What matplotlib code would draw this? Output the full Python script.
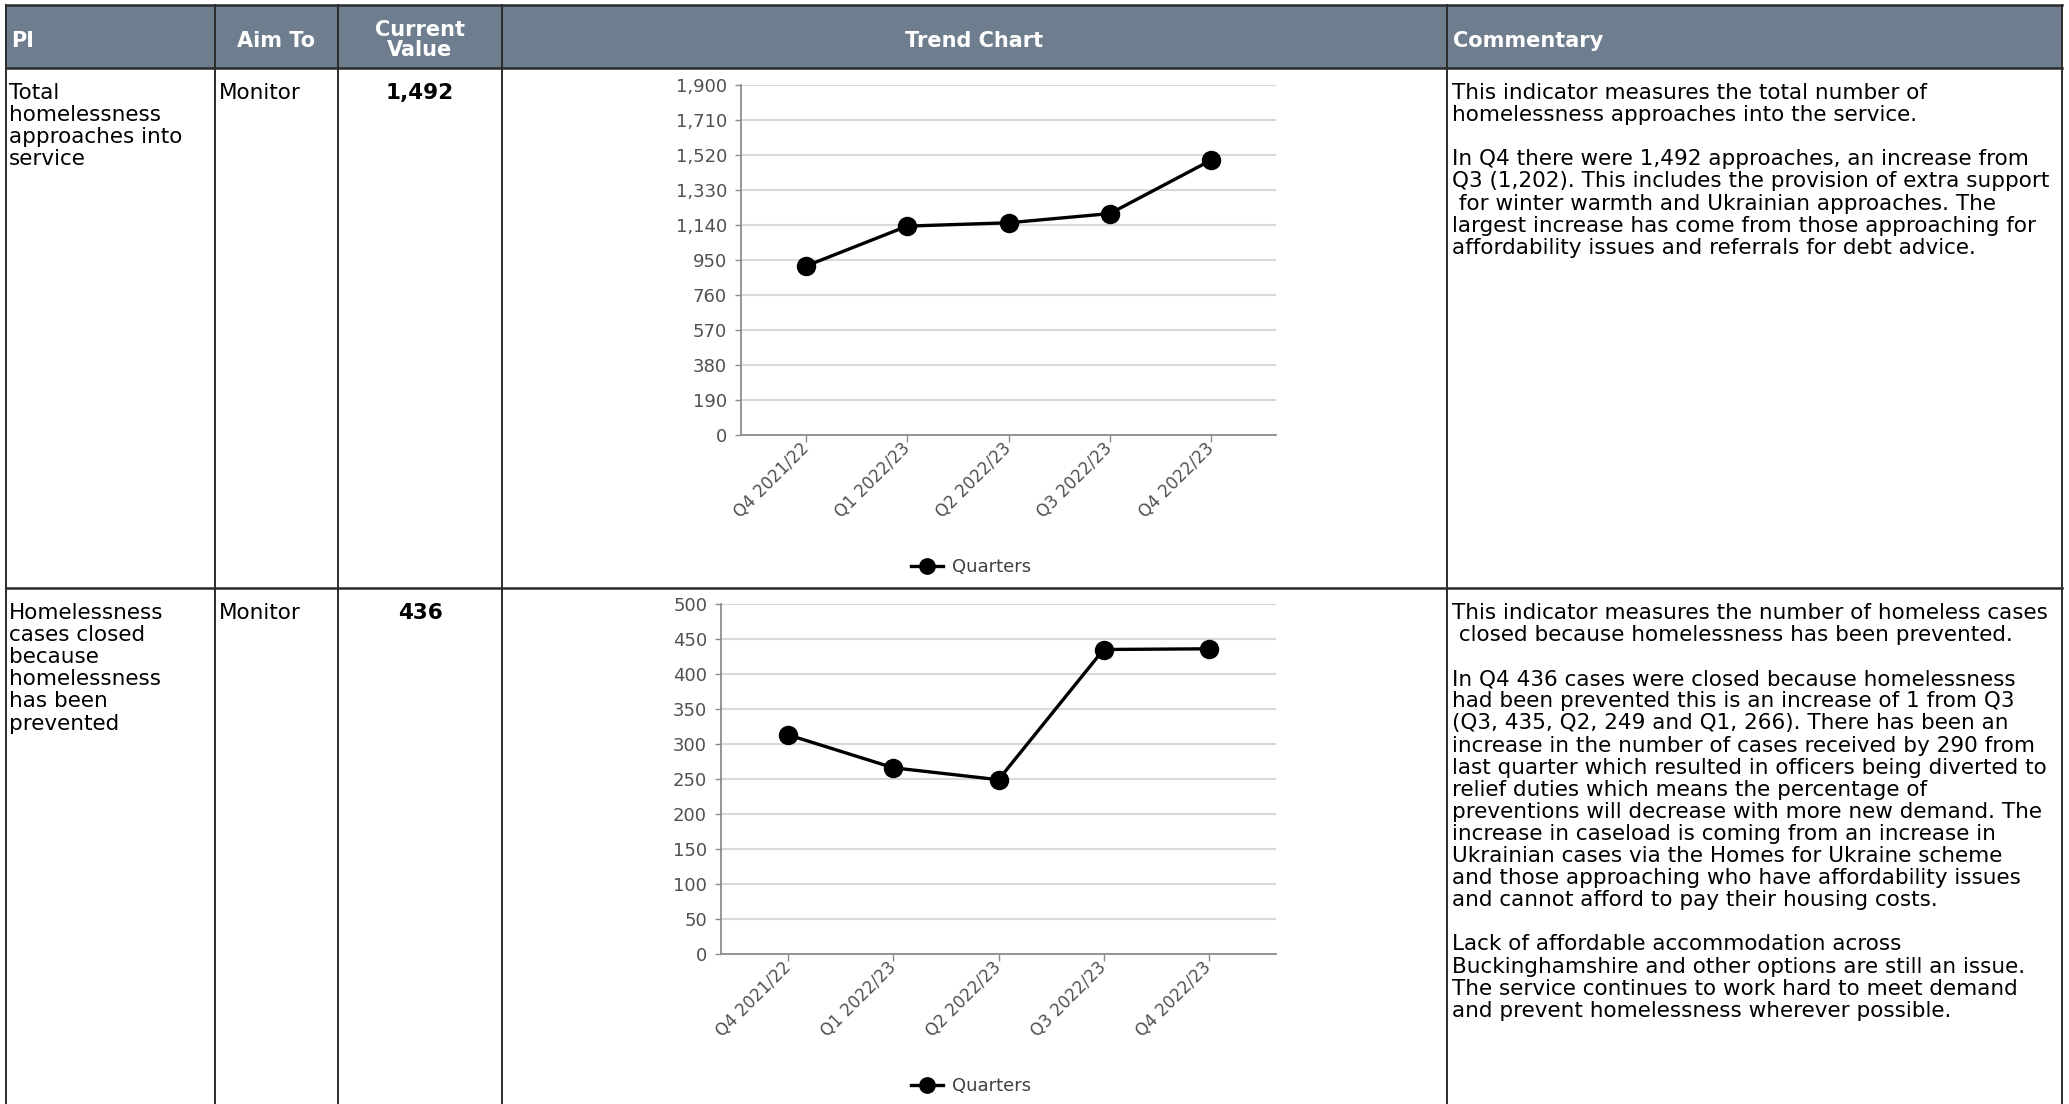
"""Performance indicator table: homelessness approaches and preventions with trend charts."""

import matplotlib
matplotlib.use("Agg")
import matplotlib.pyplot as plt
from matplotlib.lines import Line2D
from matplotlib.patches import Rectangle
from matplotlib.ticker import FuncFormatter
import matplotlib.transforms as mtransforms

W, H = 2069, 1104

# ---- data -------------------------------------------------------------
quarters = ["Q4 2021/22", "Q1 2022/23", "Q2 2022/23", "Q3 2022/23", "Q4 2022/23"]
approaches = [917, 1134, 1152, 1202, 1492]
prevented = [313, 266, 249, 435, 436]

approach_ticks = [0, 190, 380, 570, 760, 950, 1140, 1330, 1520, 1710, 1900]
prevent_ticks = [0, 50, 100, 150, 200, 250, 300, 350, 400, 450, 500]

headers = ["PI", "Aim To", "Current\nValue", "Trend Chart", "Commentary"]
pi_names = [
    ["Total", "homelessness", "approaches into", "service"],
    ["Homelessness", "cases closed", "because", "homelessness", "has been", "prevented"],
]
aims = ["Monitor", "Monitor"]
current_values = ["1,492", "436"]
legend_label = "Quarters"

commentary = [
    [
        "This indicator measures the total number of",
        "homelessness approaches into the service.",
        "",
        "In Q4 there were 1,492 approaches, an increase from",
        "Q3 (1,202). This includes the provision of extra support",
        " for winter warmth and Ukrainian approaches. The",
        "largest increase has come from those approaching for",
        "affordability issues and referrals for debt advice.",
    ],
    [
        "This indicator measures the number of homeless cases",
        " closed because homelessness has been prevented.",
        "",
        "In Q4 436 cases were closed because homelessness",
        "had been prevented this is an increase of 1 from Q3",
        "(Q3, 435, Q2, 249 and Q1, 266). There has been an",
        "increase in the number of cases received by 290 from",
        "last quarter which resulted in officers being diverted to",
        "relief duties which means the percentage of",
        "preventions will decrease with more new demand. The",
        "increase in caseload is coming from an increase in",
        "Ukrainian cases via the Homes for Ukraine scheme",
        "and those approaching who have affordability issues",
        "and cannot afford to pay their housing costs.",
        "",
        "Lack of affordable accommodation across",
        "Buckinghamshire and other options are still an issue.",
        "The service continues to work hard to meet demand",
        "and prevent homelessness wherever possible.",
    ],
]

# ---- layout (pixels) -------------------------------------------------
COL_X = [6, 215, 338, 502, 1447, 2062]
TOP, HEAD_BOT, ROW_SEP = 5, 68, 588
ROW_TOPS = [HEAD_BOT, ROW_SEP]
HEADER_COLOR = "#6f7e8f"
BORDER = "#2b2b2b"
BODY_FONT = "DejaVu Sans"
BODY_SIZE = 15.5
PITCH = 22.1


def fx(x):
    return x / W


def fy(y):
    return 1 - y / H


def draw_lines(fig, x, y0, lines, **kw):
    for i, line in enumerate(lines):
        fig.text(fx(x), fy(y0 + i * PITCH), line, va="baseline", **kw)


def style_axes(ax, ticks):
    ax.set_xlim(-0.64, 4.64)
    ax.set_ylim(ticks[0], ticks[-1])
    ax.set_yticks(ticks)
    ax.yaxis.set_major_formatter(FuncFormatter(lambda v, p: f"{int(v):,}"))
    ax.set_xticks(range(len(quarters)))
    ax.set_xticklabels(quarters, rotation=45, ha="right", va="center",
                       rotation_mode="anchor")
    offset = mtransforms.ScaledTranslation(17 / 100, -24 / 100, ax.figure.dpi_scale_trans)
    for lab in ax.get_xticklabels():
        lab.set_transform(lab.get_transform() + offset)
    ax.grid(axis="y", color="#d9d9d9", lw=1.5)
    ax.set_axisbelow(True)
    for side in ("top", "right"):
        ax.spines[side].set_visible(False)
    for side in ("left", "bottom"):
        ax.spines[side].set_color("#8c8c8c")
        ax.spines[side].set_linewidth(1.3)
    ax.tick_params(axis="y", length=4, width=1, color="#8c8c8c",
                   labelsize=13, labelcolor="#505050", pad=6)
    ax.tick_params(axis="x", length=5, width=1, color="#8c8c8c",
                   labelsize=12, labelcolor="#505050", pad=3)


fig = plt.figure(figsize=(W / 100, H / 100), dpi=100)
fig.patch.set_facecolor("white")

# header band
fig.add_artist(Rectangle((fx(COL_X[0]), fy(HEAD_BOT)), fx(COL_X[-1]) - fx(COL_X[0]),
                         fy(TOP) - fy(HEAD_BOT), transform=fig.transFigure,
                         facecolor=HEADER_COLOR, edgecolor="none", zorder=0))

# table borders
for x in COL_X:
    fig.add_artist(Line2D([fx(x), fx(x)], [fy(TOP), fy(H)], transform=fig.transFigure,
                          color=BORDER, lw=1.4))
for y in (TOP, HEAD_BOT, ROW_SEP):
    fig.add_artist(Line2D([fx(COL_X[0]), fx(COL_X[-1])], [fy(y), fy(y)],
                          transform=fig.transFigure, color=BORDER, lw=1.8))

# header text
head_kw = dict(color="white", fontweight="bold", fontsize=15, family=BODY_FONT)
fig.text(fx(11), fy(41), headers[0], ha="left", va="center", **head_kw)
fig.text(fx((COL_X[1] + COL_X[2]) / 2), fy(41), headers[1], ha="center", va="center", **head_kw)
fig.text(fx((COL_X[2] + COL_X[3]) / 2), fy(40), headers[2], ha="center", va="center",
         linespacing=0.95, **head_kw)
fig.text(fx((COL_X[3] + COL_X[4]) / 2), fy(41), headers[3], ha="center", va="center", **head_kw)
fig.text(fx(1453), fy(41), headers[4], ha="left", va="center", **head_kw)

# row text
body_kw = dict(fontsize=BODY_SIZE, family=BODY_FONT, color="black")
for r, top in enumerate(ROW_TOPS):
    base = top + 31
    draw_lines(fig, 9, base, pi_names[r], ha="left", **body_kw)
    draw_lines(fig, 219, base, [aims[r]], ha="left", **body_kw)
    draw_lines(fig, (COL_X[2] + COL_X[3]) / 2, base, [current_values[r]], ha="center",
               fontweight="bold", **body_kw)
    draw_lines(fig, 1452, base, commentary[r], ha="left", **body_kw)

# trend charts
charts = [
    (approaches, approach_ticks, (741, 85, 1276, 435), 567),
    (prevented, prevent_ticks, (721, 604, 1276, 954), 1086),
]
for values, ticks, (l, t, r, b), leg_y in charts:
    ax = fig.add_axes([fx(l), fy(b), fx(r) - fx(l), fy(t) - fy(b)])
    ax.plot(range(len(values)), values, color="black", lw=2.4, marker="o",
            markersize=13, label=legend_label, clip_on=False, zorder=3)
    style_axes(ax, ticks)
    ax.legend(loc="center", bbox_to_anchor=(fx(971), fy(leg_y)),
              bbox_transform=fig.transFigure, frameon=False, borderpad=0,
              borderaxespad=0, handlelength=1.8, handletextpad=0.5,
              markerscale=0.85, prop={"family": BODY_FONT, "size": 13},
              labelcolor="#404040")

fig.savefig("out.png", dpi=100)
